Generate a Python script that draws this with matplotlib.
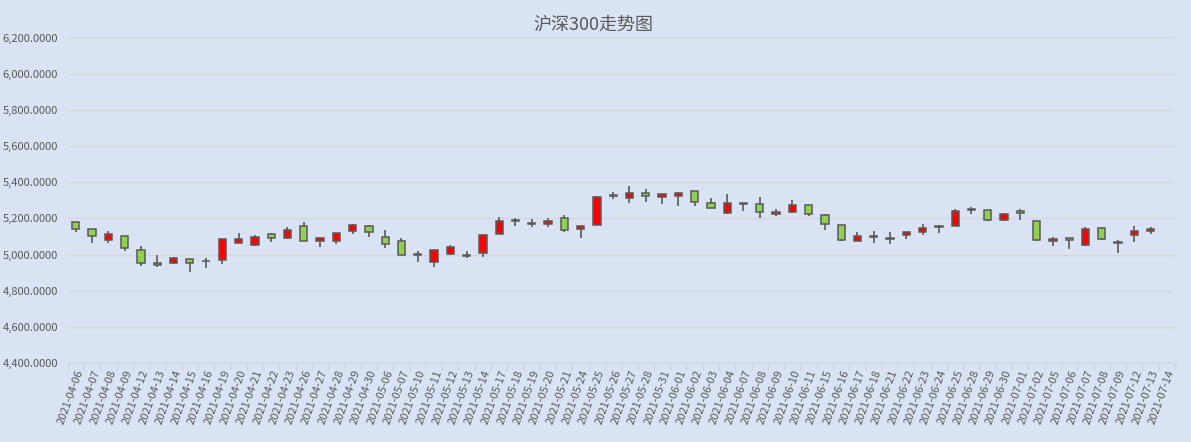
import matplotlib
matplotlib.use('Agg')
import matplotlib.pyplot as plt
import numpy as np

plt.rcParams['font.family'] = ['Noto Sans CJK SC', 'DejaVu Sans']

dates = ['2021-04-06', '2021-04-07', '2021-04-08', '2021-04-09', '2021-04-12', '2021-04-13',
         '2021-04-14', '2021-04-15', '2021-04-16', '2021-04-19', '2021-04-20', '2021-04-21',
         '2021-04-22', '2021-04-23', '2021-04-26', '2021-04-27', '2021-04-28', '2021-04-29',
         '2021-04-30', '2021-05-06', '2021-05-07', '2021-05-10', '2021-05-11', '2021-05-12',
         '2021-05-13', '2021-05-14', '2021-05-17', '2021-05-18', '2021-05-19', '2021-05-20',
         '2021-05-21', '2021-05-24', '2021-05-25', '2021-05-26', '2021-05-27', '2021-05-28',
         '2021-05-31', '2021-06-01', '2021-06-02', '2021-06-03', '2021-06-04', '2021-06-07',
         '2021-06-08', '2021-06-09', '2021-06-10', '2021-06-11', '2021-06-15', '2021-06-16',
         '2021-06-17', '2021-06-18', '2021-06-21', '2021-06-22', '2021-06-23', '2021-06-24',
         '2021-06-25', '2021-06-28', '2021-06-29', '2021-06-30', '2021-07-01', '2021-07-02',
         '2021-07-05', '2021-07-06', '2021-07-07', '2021-07-08', '2021-07-09', '2021-07-12',
         '2021-07-13', '2021-07-14']

# open / close / low / high (07-14 has no data)
opens = [5181, 5142, 5082, 5104, 5027, 4951, 4951, 4973, 4963, 4967, 5066, 5053,
         5115, 5093, 5159, 5077, 5077, 5131, 5159, 5099, 5077, 5005, 4956, 5005,
         4995, 5011, 5115, 5187, 5170, 5170, 5203, 5142, 5164, 5323, 5312, 5340,
         5318, 5323, 5351, 5285, 5228, 5280, 5279, 5225, 5236, 5274, 5219, 5164,
         5077, 5099, 5093, 5110, 5126, 5153, 5159, 5247, 5247, 5192, 5241, 5186,
         5077, 5093, 5055, 5148, 5071, 5110, 5131, np.nan]
closes = [5142, 5104, 5115, 5038, 4951, 4940, 4982, 4951, 4965, 5088, 5088, 5099,
          5093, 5137, 5077, 5093, 5121, 5164, 5126, 5060, 4998, 4995, 5027, 5044,
          4990, 5110, 5186, 5193, 5176, 5186, 5137, 5159, 5318, 5330, 5340, 5323,
          5334, 5340, 5290, 5258, 5285, 5285, 5236, 5236, 5274, 5225, 5170, 5082,
          5104, 5102, 5088, 5126, 5148, 5159, 5241, 5252, 5192, 5225, 5230, 5082,
          5088, 5082, 5142, 5088, 5066, 5131, 5142, np.nan]
lows = [5126, 5066, 5066, 5022, 4934, 4929, 4945, 4901, 4923, 4945, 5066, 5049,
        5071, 5088, 5077, 5044, 5060, 5115, 5099, 5038, 4998, 4956, 4929, 4998,
        4978, 4984, 5115, 5159, 5153, 5153, 5126, 5093, 5164, 5307, 5285, 5290,
        5279, 5268, 5268, 5258, 5225, 5241, 5203, 5214, 5230, 5214, 5137, 5077,
        5077, 5066, 5060, 5088, 5110, 5121, 5159, 5225, 5186, 5186, 5192, 5077,
        5049, 5033, 5049, 5082, 5011, 5071, 5115, np.nan]
highs = [5181, 5142, 5131, 5104, 5049, 4995, 4987, 4973, 4982, 5088, 5121, 5110,
         5121, 5153, 5181, 5099, 5121, 5170, 5164, 5137, 5093, 5022, 5033, 5055,
         5022, 5115, 5208, 5203, 5197, 5203, 5219, 5159, 5325, 5345, 5380, 5362,
         5334, 5345, 5351, 5312, 5334, 5285, 5318, 5252, 5301, 5274, 5225, 5164,
         5126, 5131, 5126, 5126, 5170, 5164, 5252, 5263, 5247, 5230, 5252, 5186,
         5099, 5093, 5153, 5153, 5082, 5159, 5153, np.nan]

opens = np.array(opens, dtype=float)
closes = np.array(closes, dtype=float)
lows = np.array(lows, dtype=float)
highs = np.array(highs, dtype=float)
x = np.arange(len(dates))

bg = '#dae3f3'
edge = '#595959'
up_c = '#ff0000'
down_c = '#92d050'
txt = '#595959'

fig = plt.figure(figsize=(11.91, 4.42), dpi=100, facecolor=bg)
ax = fig.add_axes([0.0568, 0.1787, 0.9298, 0.7365], facecolor=bg)

ok = ~np.isnan(opens)
ax.vlines(x[ok], lows[ok], highs[ok], color=edge, linewidth=1.2, zorder=2)
colors = [up_c if c >= o else down_c for o, c in zip(opens[ok], closes[ok])]
bottoms = np.minimum(opens[ok], closes[ok])
heights = np.abs(closes[ok] - opens[ok])
ax.bar(x[ok], heights, bottom=bottoms, width=0.45, color=colors,
       edgecolor=edge, linewidth=1.1, zorder=3)

ax.set_xlim(-0.5, len(dates) - 0.5)
ax.set_ylim(4400, 6200)
yt = np.arange(4400, 6201, 200)
ax.set_yticks(yt)
ax.set_yticklabels(['{:,.4f}'.format(v) for v in yt], fontsize=8, color=txt)
ax.yaxis.grid(True, color='#d4d8de', linewidth=1)
ax.set_axisbelow(True)
ax.tick_params(axis='y', length=0, pad=7)

ax.set_xticks(x)
ax.set_xticklabels(dates, rotation=70, ha='right', va='top', rotation_mode='anchor',
                   fontsize=8, color=txt)
ax.set_xticks(np.arange(-0.5, len(dates)), minor=True)
ax.tick_params(axis='x', which='major', length=0, pad=4)
ax.tick_params(axis='x', which='minor', length=5, color='#d0d4da', width=1)

for s in ['top', 'right', 'left']:
    ax.spines[s].set_visible(False)
ax.spines['bottom'].set_color('#d0d4da')

fig.text(0.498, 0.945, '沪深300走势图', ha='center', va='center', fontsize=13, color=txt)

fig.savefig('out.png', dpi=100, facecolor=bg)
